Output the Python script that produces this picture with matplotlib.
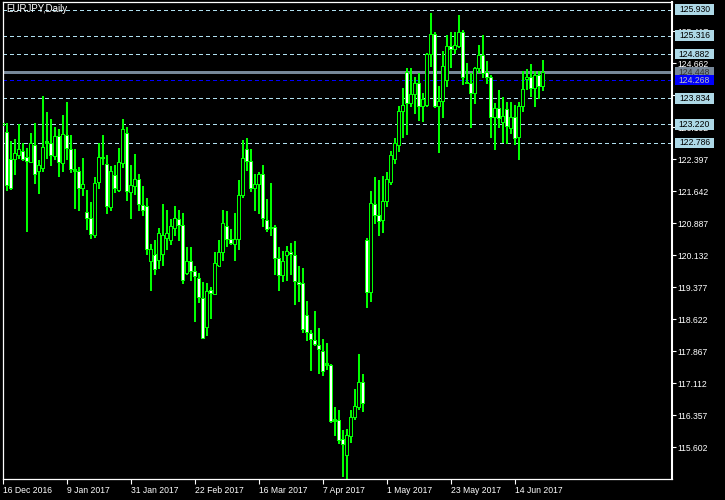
import numpy as np
import pandas as pd
import matplotlib
matplotlib.use('Agg')
import matplotlib.pyplot as plt
from matplotlib.patches import Rectangle
from matplotlib.transforms import blended_transform_factory

plt.rcParams['font.family'] = ['Liberation Sans', 'DejaVu Sans']

symbol = 'EURJPY,Daily'
dates = pd.bdate_range('2016-12-16', periods=136)

opens = [123.25, 123.04, 122.40, 122.40, 122.49, 122.59, 122.45, 122.33, 122.73, 122.12,
         122.19, 122.78, 122.78, 122.46, 122.93, 122.29, 122.97, 122.63, 122.15, 122.10,
         121.70, 121.15, 121.01, 120.60, 121.85, 122.41, 122.28, 121.27, 122.01, 121.66,
         122.30, 123.01, 121.62, 121.75, 121.91, 121.31, 121.29, 119.98, 120.14, 120.02,
         120.14, 120.53, 120.49, 120.77, 120.97, 120.84, 119.71, 119.99, 119.74, 119.59,
         119.12, 118.43, 119.31, 119.21, 119.88, 120.19, 120.81, 120.51, 120.38, 120.51,
         121.54, 122.63, 122.35, 121.70, 121.81, 122.04, 120.96, 120.79, 120.79, 120.06,
         119.65, 120.12, 120.20, 120.13, 119.50, 119.47, 118.72, 118.29, 118.13, 118.01,
         117.87, 117.57, 117.54, 116.25, 116.24, 115.79, 115.40, 115.85, 116.31, 116.55,
         117.14, 120.49, 119.25, 121.34, 121.08, 120.95, 121.40, 121.85, 122.40, 122.72,
         123.52, 124.45, 123.71, 123.92, 124.19, 123.64, 123.66, 124.88, 125.35, 123.64,
         123.77, 124.25, 125.06, 124.99, 125.06, 125.40, 124.21, 124.19, 123.96, 124.55,
         124.85, 124.44, 124.33, 123.39, 123.60, 123.26, 123.58, 123.13, 123.39, 122.91,
         123.64, 124.27, 124.32, 124.07, 124.38, 124.11]
highs = [123.40, 123.25, 122.81, 122.87, 123.21, 122.78, 122.66, 123.00, 123.25, 122.38,
         123.88, 123.51, 123.33, 123.14, 123.11, 123.44, 123.73, 122.95, 122.62, 122.21,
         122.42, 121.67, 121.39, 121.97, 122.76, 122.95, 122.48, 122.22, 122.26, 122.66,
         123.33, 123.14, 122.26, 122.52, 122.05, 121.76, 121.48, 120.38, 120.49, 120.77,
         121.34, 121.18, 120.98, 121.28, 121.18, 121.11, 120.31, 120.31, 119.88, 119.71,
         119.50, 119.46, 119.38, 120.21, 120.49, 121.18, 121.16, 120.73, 121.12, 121.89,
         122.83, 122.90, 122.63, 122.04, 122.08, 122.26, 121.44, 121.83, 120.84, 120.31,
         120.23, 120.34, 120.40, 120.45, 119.86, 119.81, 119.05, 118.35, 118.80, 118.41,
         118.15, 118.06, 117.55, 116.53, 116.46, 116.01, 116.03, 116.48, 116.97, 117.80,
         117.31, 120.53, 121.65, 121.98, 121.89, 122.00, 122.09, 122.59, 122.88, 123.65,
         124.06, 124.55, 124.55, 124.33, 124.43, 123.96, 124.90, 125.83, 125.40, 124.12,
         124.95, 125.33, 125.40, 125.40, 125.80, 125.43, 124.65, 124.43, 124.56, 125.09,
         125.31, 124.71, 124.38, 123.72, 124.03, 123.86, 123.75, 123.75, 123.66, 123.73,
         124.46, 124.51, 124.64, 124.46, 124.46, 124.72]
lows = [123.05, 121.66, 121.69, 122.05, 122.42, 122.36, 120.69, 122.32, 121.82, 121.59,
        122.11, 122.42, 122.24, 122.40, 121.99, 122.11, 122.40, 122.08, 121.23, 121.19,
        121.55, 120.73, 120.52, 120.55, 121.70, 122.27, 121.12, 121.19, 121.62, 121.65,
        122.21, 121.42, 121.00, 121.57, 121.19, 121.07, 120.14, 119.31, 119.67, 119.83,
        119.90, 120.26, 120.38, 120.61, 120.49, 119.46, 119.67, 119.53, 118.57, 119.01,
        118.16, 118.24, 118.64, 119.20, 119.86, 120.01, 120.34, 120.38, 120.01, 120.26,
        121.49, 122.13, 121.63, 121.18, 121.11, 120.81, 120.69, 120.59, 119.67, 119.30,
        119.51, 119.53, 119.67, 118.98, 119.05, 118.32, 118.12, 117.41, 118.00, 117.34,
        117.29, 117.43, 116.18, 115.89, 115.68, 114.91, 114.85, 115.71, 116.25, 116.50,
        116.44, 118.90, 119.04, 120.89, 120.60, 120.67, 121.28, 121.80, 122.29, 122.58,
        122.91, 122.98, 123.64, 123.47, 123.31, 123.29, 123.65, 124.58, 123.63, 122.55,
        123.38, 124.11, 124.56, 124.90, 125.03, 124.16, 124.18, 123.14, 123.71, 124.45,
        124.32, 124.19, 122.91, 122.63, 123.14, 122.79, 122.78, 123.01, 122.75, 122.39,
        123.52, 124.05, 123.89, 123.64, 123.84, 124.02]
closes = [123.20, 121.78, 121.71, 122.54, 122.63, 122.40, 122.35, 122.78, 122.04, 122.26,
          122.68, 122.81, 122.48, 122.93, 122.32, 122.99, 122.65, 122.16, 122.12, 121.70,
          121.81, 121.01, 120.63, 121.83, 122.45, 122.45, 121.28, 122.12, 121.70, 122.33,
          123.09, 121.63, 121.77, 121.93, 121.34, 121.19, 120.26, 120.26, 119.79, 120.65,
          120.61, 120.65, 120.82, 121.01, 120.83, 119.53, 119.99, 119.75, 119.63, 119.13,
          118.17, 119.28, 119.23, 119.94, 120.20, 120.89, 120.51, 120.40, 120.51, 121.55,
          122.42, 122.34, 121.70, 121.81, 122.05, 121.01, 120.75, 120.76, 120.06, 119.65,
          119.98, 120.23, 120.15, 119.51, 119.44, 118.39, 118.32, 118.15, 118.02, 117.91,
          117.39, 117.54, 116.21, 116.22, 115.77, 115.67, 115.87, 116.31, 116.57, 117.14,
          116.64, 119.25, 121.36, 121.07, 120.93, 121.41, 121.93, 122.48, 122.76, 123.53,
          123.67, 123.71, 123.93, 124.19, 123.64, 123.80, 124.88, 125.35, 123.64, 123.77,
          124.58, 125.06, 124.99, 125.09, 125.40, 124.33, 124.19, 123.96, 124.55, 124.85,
          124.43, 124.33, 123.39, 123.60, 123.37, 123.40, 123.18, 123.39, 122.89, 123.64,
          124.05, 124.32, 124.07, 124.38, 124.11, 124.45]

price_ticks = [115.602, 116.357, 117.112, 117.867, 118.622, 119.377, 120.132,
               120.887, 121.642, 122.397, 123.152, 123.907, 124.662, 125.417]
levels = [125.930, 125.316, 124.882, 123.834, 123.220, 122.786]
bid_price = 124.448
blue_level = 124.268

o = np.array(opens)
h = np.array(highs)
l = np.array(lows)
c = np.array(closes)
x = np.arange(len(o))

fig = plt.figure(figsize=(7.25, 5), dpi=100, facecolor='black')
ax = fig.add_axes([2.5 / 725, 21 / 500, 669.5 / 725, 477 / 500])
ax.set_facecolor('black')
ax.set_xlim(-0.2, 167.2)
ax.set_ylim(114.854, 126.11)
px = (126.11 - 114.854) / 477  # one pixel in price units

# level lines
for lv in levels:
    ax.axhline(lv, color='#B0E0F0', lw=0.75, ls=(0, (2.9, 2.9)), zorder=1, antialiased=False)
ax.axhline(bid_price, color='#778899', lw=0.75, zorder=1, antialiased=False)
ax.axhline(blue_level, color='#0000FF', lw=0.75, ls=(0, (2.9, 2.9)), zorder=1, antialiased=False)

# candles: white body = bearish, black body = bullish (MT4 green on black)
lime = '#00FF00'
ax.vlines(x, l, h, color=lime, lw=0.75, zorder=2, antialiased=False, snap=False)
bear = c < o
bottom = np.minimum(o, c)
height = np.maximum(np.abs(c - o), px)
outer = ax.bar(x, height, bottom=bottom, width=0.75, color=lime, linewidth=0,
               zorder=3, antialiased=False)
inner_h = height - 2 * px
big = inner_h > 0
inner = ax.bar(x[big], inner_h[big], bottom=bottom[big] + px, width=0.3,
               color='black', linewidth=0, zorder=4, antialiased=False)
for patch, is_bear in zip(inner.patches, bear[big]):
    patch.set_facecolor('white' if is_bear else 'black')
for patch in list(outer.patches) + list(inner.patches):
    patch.set_snap(False)

# axes styling
for s in ax.spines.values():
    s.set_color('white')
    s.set_linewidth(0.9)
ax.spines['right'].set_linewidth(1.5)

ax.yaxis.tick_right()
ax.set_yticks(price_ticks)
ax.set_yticklabels([f'{p:.3f}' for p in price_ticks])
ax.tick_params(axis='y', colors='white', length=3, width=0.8, pad=1.2, labelsize=6.2)

tick_idx = np.arange(0, len(dates), 16)
ax.set_xticks(tick_idx)
ax.set_xticklabels([f'{dates[i].day} {dates[i].strftime("%b %Y")}' for i in tick_idx])
ax.tick_params(axis='x', colors='white', length=3.5, width=0.8, pad=1.5, labelsize=6.2)
for lab in ax.get_xticklabels():
    lab.set_ha('left')

# price boxes on the right
tr = blended_transform_factory(ax.transAxes, ax.transData)
bx0 = 1 + 3 / 669.5
bw = 39 / 669.5
bh = 10.5 * px


def price_box(val, fc, tc):
    ax.add_patch(Rectangle((bx0, val - bh / 2), bw, bh, transform=tr, fc=fc,
                           ec='none', clip_on=False, zorder=6))
    ax.text(bx0 + bw / 2, val, f'{val:.3f}', transform=tr, ha='center', va='center',
            fontsize=6.2, color=tc, zorder=7, clip_on=False)


for lv in levels:
    price_box(lv, '#ADD8E6', 'black')
price_box(bid_price, '#778899', '#333333')
price_box(blue_level, '#0000FF', '#C0C0C0')

ax.text(4 / 669.5, 1 - 7.5 / 477, symbol, transform=ax.transAxes, color='white',
        fontsize=7, ha='left', va='center')

plt.savefig('out.png', dpi=100, facecolor='black')
